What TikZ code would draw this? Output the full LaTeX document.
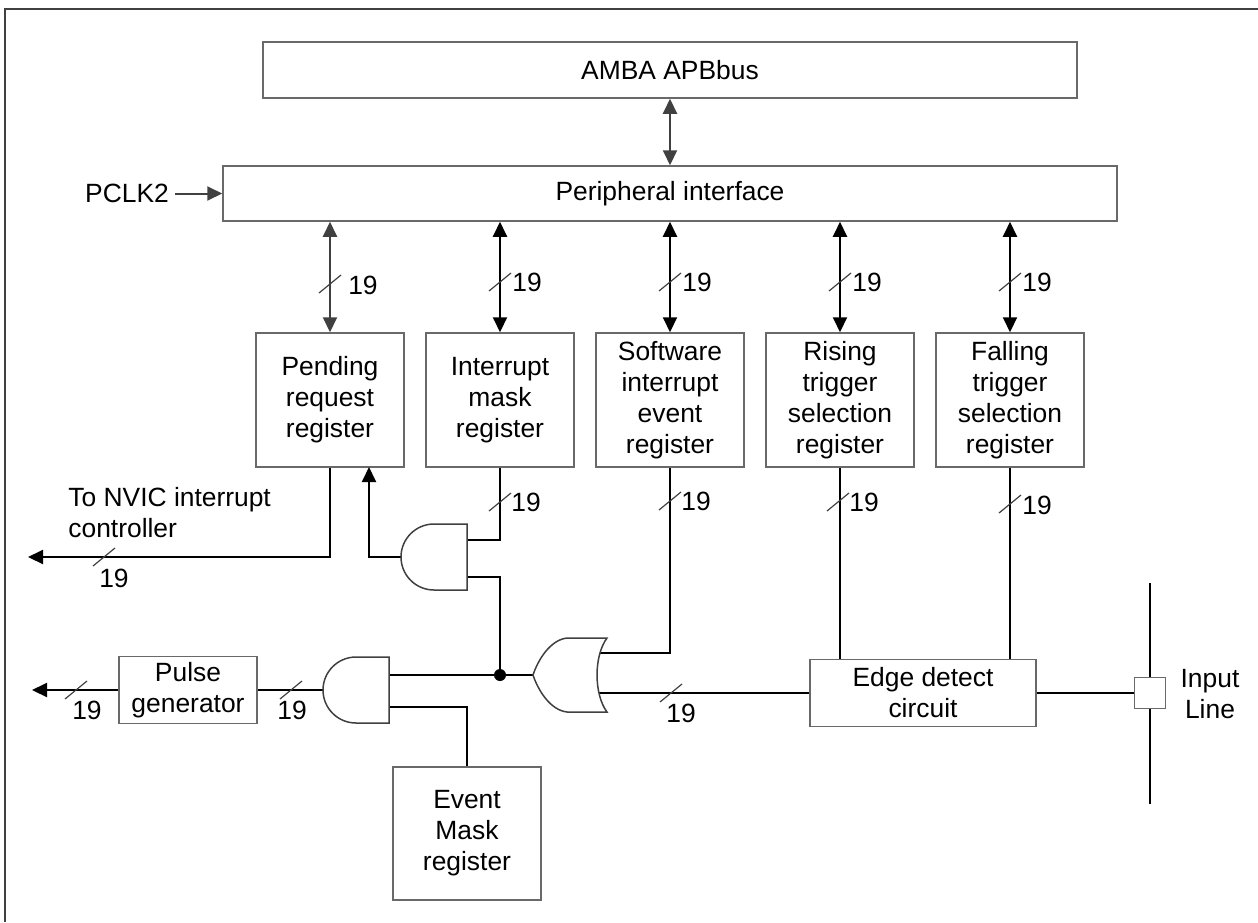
\documentclass[tikz,border=0pt]{standalone}
\usepackage{fontspec}
\setmainfont{Liberation Sans}
\usetikzlibrary{arrows.meta,calc}
\definecolor{boxgray}{RGB}{105,105,105}
\definecolor{dgray}{RGB}{64,64,64}
\newcommand\busslash[2]{\draw[slash] (#1-11,#2+9) -- (#1+11,#2-9);}
\begin{document}
\begin{tikzpicture}[x=0.5pt,y=-0.5pt,
  box/.style={draw=boxgray,line width=0.75pt,fill=white,inner sep=0pt,align=center,font=\fontsize{13.2}{15.5}\selectfont},
  reg/.style={box,minimum width=74pt,minimum height=67pt},
  lbl/.style={inner sep=0pt,font=\fontsize{13.2}{15.5}\selectfont},
  wire/.style={line width=1pt,draw=black},
  gwire/.style={line width=1pt,draw=dgray},
  tip/.style={arrows={-Triangle[length=7.5pt,width=7pt]}},
  dbl/.style={arrows={Triangle[length=7.5pt,width=7pt]-Triangle[length=7.5pt,width=7pt]}},
  gate/.style={draw=dgray,line width=0.75pt,fill=white},
  slash/.style={draw=dgray,line width=0.6pt}]
\useasboundingbox (0,0) rectangle (1258,922);
% frame
\draw[draw=dgray,line width=0.75pt] (5,922) -- (5,9) -- (1258,9);

% boxes
\node[box,minimum width=407pt,minimum height=28pt] (amba) at (670,70) {AMBA APBbus};
\node[box,minimum width=447pt,minimum height=27.5pt] (periph) at (670,193.5) {Peripheral interface};
\node[lbl,inner xsep=3pt] (pclk) at (127,193.5) {PCLK2};

\node[reg] (pend)  at (330,400) {Pending\\request\\register};
\node[reg] (imask) at (500,400) {Interrupt\\mask\\register};
\node[reg] (swie)  at (670,400) {Software\\interrupt\\event\\register};
\node[reg] (rtsr)  at (840,400) {Rising\\trigger\\selection\\register};
\node[reg] (ftsr)  at (1010,400) {Falling\\trigger\\selection\\register};

\node[box,minimum width=113pt,minimum height=33.5pt] (edge) at (923,693) {Edge detect\\circuit};
\node[box,minimum width=69pt,minimum height=33.5pt] (pulse) at (188,690) {Pulse\\generator};
\node[box,minimum width=74pt,minimum height=66.5pt] (evm) at (467,833.5) {Event\\Mask\\register};

\node[lbl,align=left,anchor=west] (nvictxt) at (68,513) {To NVIC interrupt\\controller};
\node[lbl,align=center] (inlbl) at (1210,694) {Input\\Line};

% top arrows
\draw[gwire,dbl] (amba.south) -- (periph.north);
\draw[gwire,tip] (pclk.east) -- (periph.west |- pclk.east);
\draw[gwire,dbl] (periph.south -| pend) -- (pend.north);
\draw[wire,dbl] (periph.south -| imask) -- (imask.north);
\draw[wire,dbl] (periph.south -| swie) -- (swie.north);
\draw[wire,dbl] (periph.south -| rtsr) -- (rtsr.north);
\draw[wire,dbl] (periph.south -| ftsr) -- (ftsr.north);

% gate pins
\coordinate (a1o) at (401,557);
\coordinate (a1i1) at (467,540);
\coordinate (a1i2) at (467,577);
\coordinate (a2o) at (323,690);
\coordinate (a2i1) at (389,675);
\coordinate (a2i2) at (389,707);
\coordinate (oro) at (533,675);
\coordinate (ori1) at (600,653);
\coordinate (ori2) at (599,693);
\coordinate (nvic) at (28,557);
\coordinate (p1) at (369,467);
\coordinate (evout) at (32,690);
\coordinate (lt) at (1150,583);
\coordinate (lb) at (1150,804);

% wires
\draw[wire,tip] (pend.south) |- (nvic);
\draw[wire,tip] (a1o) -| (p1);
\draw[wire] (imask.south) |- (a1i1);
\node[circle,fill=black,inner sep=0pt,minimum size=6pt] (jn) at (500,675) {};
\draw[wire] (a1i2) -| (jn.center);
\draw[wire] (oro) -- (a2i1);
\draw[wire] (a2i2) -| (evm.north);
\draw[wire] (a2o) -- (pulse.east);
\draw[wire,tip] (pulse.west) -- (evout);
\draw[wire] (swie.south) |- (ori1);
\draw[wire] (edge.west |- ori2) -- (ori2);
\draw[wire] (rtsr.south) -- (rtsr.south |- edge.north);
\draw[wire] (ftsr.south) -- (ftsr.south |- edge.north);
\draw[wire] (edge.east) -- (1134,693);
\draw[wire] (lt) -- (lb);
\node[box,minimum size=15.5pt] (pin) at (1150,693) {};

% gates
\draw[gate] (467,524) -- (434,524) .. controls (415.8,524) and (401,538.8) .. (401,557)
  .. controls (401,575.2) and (415.8,590) .. (434,590) -- (467,590) -- cycle;
\draw[gate] (389,657) -- (356,657) .. controls (337.8,657) and (323,671.8) .. (323,690)
  .. controls (323,708.2) and (337.8,723) .. (356,723) -- (389,723) -- cycle;
\draw[gate] (607,638) -- (567,638) .. controls (550,640) and (538,660) .. (533,675)
  .. controls (538,690) and (550,710) .. (567,712) -- (607,712)
  .. controls (593.7,694) and (593.7,656) .. (607,638) -- cycle;

% bus marks
\busslash{330}{284}
\busslash{500}{282}
\busslash{670}{282}
\busslash{840}{282}
\busslash{1010}{282}
\busslash{500}{502}
\busslash{670}{501}
\busslash{838}{502}
\busslash{1010}{504}
\busslash{104}{557}
\busslash{76}{690}
\busslash{291}{690}
\busslash{671}{693}

\node[lbl] (b1) at (363,285) {19};
\node[lbl] (b2) at (527,282) {19};
\node[lbl] (b3) at (697,282) {19};
\node[lbl] (b4) at (867,282) {19};
\node[lbl] (b5) at (1037,282) {19};
\node[lbl] (b6) at (526,502) {19};
\node[lbl] (b7) at (696,501) {19};
\node[lbl] (b8) at (864,502) {19};
\node[lbl] (b9) at (1037,505) {19};
\node[lbl] (b10) at (114,578) {19};
\node[lbl] (b11) at (87,710) {19};
\node[lbl] (b12) at (292,710) {19};
\node[lbl] (b13) at (681,713) {19};
\end{tikzpicture}
\end{document}
